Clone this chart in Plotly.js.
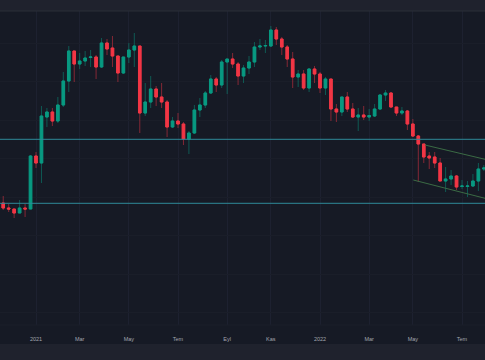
<!DOCTYPE html>
<html>
<head>
<meta charset="utf-8">
<script src="https://cdn.plot.ly/plotly-3.0.1.min.js"></script>
<style>
html,body{margin:0;padding:0;background:#161a25;}
#chart{width:485px;height:360px;}
</style>
</head>
<body>
<div id="chart"></div>
<script>
// Weekly candles (Monday of each week)
const weeks = [
"2020-11-16","2020-11-23","2020-11-30","2020-12-07","2020-12-14","2020-12-21","2020-12-28",
"2021-01-04","2021-01-11","2021-01-18","2021-01-25","2021-02-01","2021-02-08","2021-02-15","2021-02-22",
"2021-03-01","2021-03-08","2021-03-15","2021-03-22","2021-03-29","2021-04-05","2021-04-12","2021-04-19","2021-04-26",
"2021-05-03","2021-05-10","2021-05-17","2021-05-24","2021-05-31","2021-06-07","2021-06-14","2021-06-21","2021-06-28",
"2021-07-05","2021-07-12","2021-07-19","2021-07-26","2021-08-02","2021-08-09","2021-08-16","2021-08-23","2021-08-30",
"2021-09-06","2021-09-13","2021-09-20","2021-09-27","2021-10-04","2021-10-11","2021-10-18","2021-10-25",
"2021-11-01","2021-11-08","2021-11-15","2021-11-22","2021-11-29","2021-12-06","2021-12-13","2021-12-20","2021-12-27",
"2022-01-03","2022-01-10","2022-01-17","2022-01-24","2022-01-31","2022-02-07","2022-02-14","2022-02-21","2022-02-28",
"2022-03-07","2022-03-14","2022-03-21","2022-03-28","2022-04-04","2022-04-11","2022-04-18","2022-04-25",
"2022-05-02","2022-05-09","2022-05-16","2022-05-23","2022-05-30","2022-06-06","2022-06-13","2022-06-20","2022-06-27",
"2022-07-04","2022-07-11","2022-07-18","2022-07-25","2022-08-01"
];
const openP = [
12.5,13.7,13.2,13.1,12.7,13.2,13.1,18.4,17.7,22.3,22.8,21.9,23.5,25.9,28.9,27.6,27.9,28.25,28.3,27.3,
29.7,29.2,28.4,26.7,28.3,29.0,29.4,22.7,23.8,25.1,24.3,23.8,21.3,21.9,21.6,20.1,20.7,23.0,23.5,24.7,
26.1,25.5,27.8,28.1,27.6,26.4,27.2,27.8,29.3,29.4,29.4,31.0,30.1,29.3,28.1,26.3,26.6,25.2,27.1,26.6,
25.2,26.1,23.1,22.8,24.3,23.1,22.3,22.5,22.3,22.4,23.1,24.5,24.7,23.3,22.7,22.9,21.6,20.4,19.6,18.4,
18.3,17.7,15.9,16.1,16.4,15.35,15.35,15.4,15.9,17.1
];
const highP = [
13.7,14.4,13.6,13.1,14.0,13.6,18.5,18.8,23.4,23.2,23.2,24.3,26.8,29.4,28.9,28.7,28.9,29.0,28.5,30.2,
30.1,30.4,28.4,28.3,29.7,30.7,29.4,25.7,26.4,25.4,25.7,24.0,22.3,22.7,21.8,20.9,23.5,24.2,24.9,26.5,
26.3,28.0,28.1,28.7,27.8,27.5,28.4,29.8,30.1,30.0,31.4,31.3,30.3,29.5,28.8,27.0,27.0,27.2,27.4,26.8,
26.3,26.1,23.6,24.3,24.8,23.7,23.2,23.4,23.1,23.6,24.6,25.0,24.8,23.3,23.3,23.0,22.1,20.5,19.6,18.8,
18.8,18.2,17.3,17.0,16.5,16.0,15.9,16.6,17.7,17.5
];
const lowP = [
11.8,13.0,12.8,12.2,12.7,12.3,13.1,17.2,15.7,21.3,21.4,21.7,23.3,24.8,25.8,27.1,27.4,27.3,26.1,27.2,
28.5,27.3,25.8,26.6,27.7,27.3,20.7,22.4,23.2,23.4,23.2,20.3,21.2,21.2,19.5,18.6,20.6,22.3,23.2,24.6,
24.8,25.2,24.6,27.2,25.5,25.7,26.6,27.3,29.0,28.7,29.3,29.5,28.5,27.3,25.2,25.3,25.0,24.8,25.7,24.7,
24.5,21.9,21.8,22.4,22.8,22.2,20.9,22.0,21.9,22.3,23.0,23.9,23.2,22.4,22.5,21.0,20.3,15.8,17.7,17.1,
17.2,15.9,14.8,15.5,15.0,15.1,14.3,15.3,14.9,16.9
];
const closeP = [
13.5,13.2,13.1,12.7,13.2,13.1,18.4,17.7,22.4,22.8,21.9,23.5,25.9,28.9,27.6,27.9,28.2,28.3,27.3,29.7,
29.1,28.4,26.7,28.3,29.0,29.4,22.7,23.8,25.1,24.3,23.8,21.3,21.9,21.6,20.1,20.7,23.0,23.5,24.7,26.1,
25.5,27.8,28.1,27.6,26.4,27.2,27.8,29.3,29.4,29.45,31.0,30.1,29.3,28.1,26.3,26.6,25.2,27.1,26.6,25.2,
26.1,23.1,22.8,24.3,23.1,22.3,22.5,22.3,22.45,23.1,24.5,24.7,23.3,22.7,22.9,21.6,20.4,19.6,18.3,18.2,
17.7,15.9,16.1,16.4,15.3,15.4,15.4,15.9,17.1,17.2
];
// Time-axis labels (Turkish month names)
const tickDates = ["2021-01-04","2021-03-01","2021-05-03","2021-07-05","2021-09-06","2021-11-01","2022-01-03","2022-03-07","2022-05-02","2022-07-04"];
const tickLabels = ["2021","Mar","May","Tem","Eyl","Kas","2022","Mar","May","Tem"];
// Drawn horizontal levels and falling channel
const levels = [20.07, 13.67];
const channelTopDates = ["2022-05-17 12:00","2022-08-02 12:00"];
const channelTopPrices = [19.5, 18.07];
const channelBotDates = ["2022-05-02 13:00","2022-08-02 12:00"];
const channelBotPrices = [16.0, 14.17];

const UP = "#089981", DOWN = "#f23645";
const UPW = "rgba(8,153,129,0.5)", DOWNW = "rgba(242,54,69,0.5)";

const bodyHigh = openP.map((o,i)=>Math.max(o,closeP[i]));
const bodyLow = openP.map((o,i)=>Math.min(o,closeP[i]));

const wicks = {
  type:"candlestick", x:weeks, open:openP, high:highP, low:lowP, close:closeP,
  increasing:{line:{color:UPW,width:1}, fillcolor:UPW},
  decreasing:{line:{color:DOWNW,width:1}, fillcolor:DOWNW},
  whiskerwidth:0, hoverinfo:"skip", showlegend:false
};
const bodies = {
  type:"candlestick", x:weeks, open:openP, high:bodyHigh, low:bodyLow, close:closeP,
  increasing:{line:{color:UP,width:1}, fillcolor:UP},
  decreasing:{line:{color:DOWN,width:1}, fillcolor:DOWN},
  whiskerwidth:0, showlegend:false
};

const shapes = [
  {type:"rect", xref:"paper", yref:"paper", x0:0, x1:1, y0:1, y1:1+11/314, fillcolor:"#1f222d", line:{width:0}, layer:"below"},
  {type:"line", xref:"paper", yref:"paper", x0:0, x1:1, y0:1, y1:1, line:{color:"#2a2e39", width:1}},
  {type:"rect", xref:"paper", yref:"paper", x0:0, x1:1, y0:-19/314, y1:-36/314, fillcolor:"#1f222d", line:{width:0}, layer:"below"},
  {type:"line", xref:"paper", yref:"paper", x0:0, x1:1, y0:0, y1:0, line:{color:"#1b1f2a", width:1}}
];
levels.forEach(v=>shapes.push({type:"line", xref:"paper", yref:"y", x0:0, x1:1, y0:v, y1:v, line:{color:"#2f8a99", width:1}}));
shapes.push({type:"line", xref:"x", yref:"y", x0:channelTopDates[0], x1:channelTopDates[1], y0:channelTopPrices[0], y1:channelTopPrices[1], line:{color:"#3b6b45", width:1}});
shapes.push({type:"line", xref:"x", yref:"y", x0:channelBotDates[0], x1:channelBotDates[1], y0:channelBotPrices[0], y1:channelBotPrices[1], line:{color:"#3b6b45", width:1}});

const layout = {
  width:485, height:360,
  margin:{l:0, r:0, t:11, b:35, pad:0},
  paper_bgcolor:"#161a25", plot_bgcolor:"#161a25",
  showlegend:false,
  boxgap:0.32,
  xaxis:{
    type:"date", range:["2020-11-18 20:40","2022-08-02 11:20"],
    rangeslider:{visible:false},
    tickmode:"array", tickvals:tickDates, ticktext:tickLabels,
    ticks:"outside", ticklen:8, tickcolor:"rgba(0,0,0,0)",
    tickfont:{family:"Liberation Sans, Arial, sans-serif", size:5.5, color:"#a3a6af"},
    showgrid:true, gridcolor:"#1d2130", gridwidth:1,
    showline:false, zeroline:false, fixedrange:true
  },
  yaxis:{
    range:[1.5, 32.9], showticklabels:false, ticks:"",
    tickmode:"linear", tick0:14.3, dtick:3.85,
    showgrid:true, gridcolor:"#1a1e29", gridwidth:1,
    zeroline:false, showline:false, fixedrange:true
  },
  shapes:shapes
};

Plotly.newPlot("chart", [wicks, bodies], layout, {displayModeBar:false, staticPlot:true});
</script>
</body>
</html>
